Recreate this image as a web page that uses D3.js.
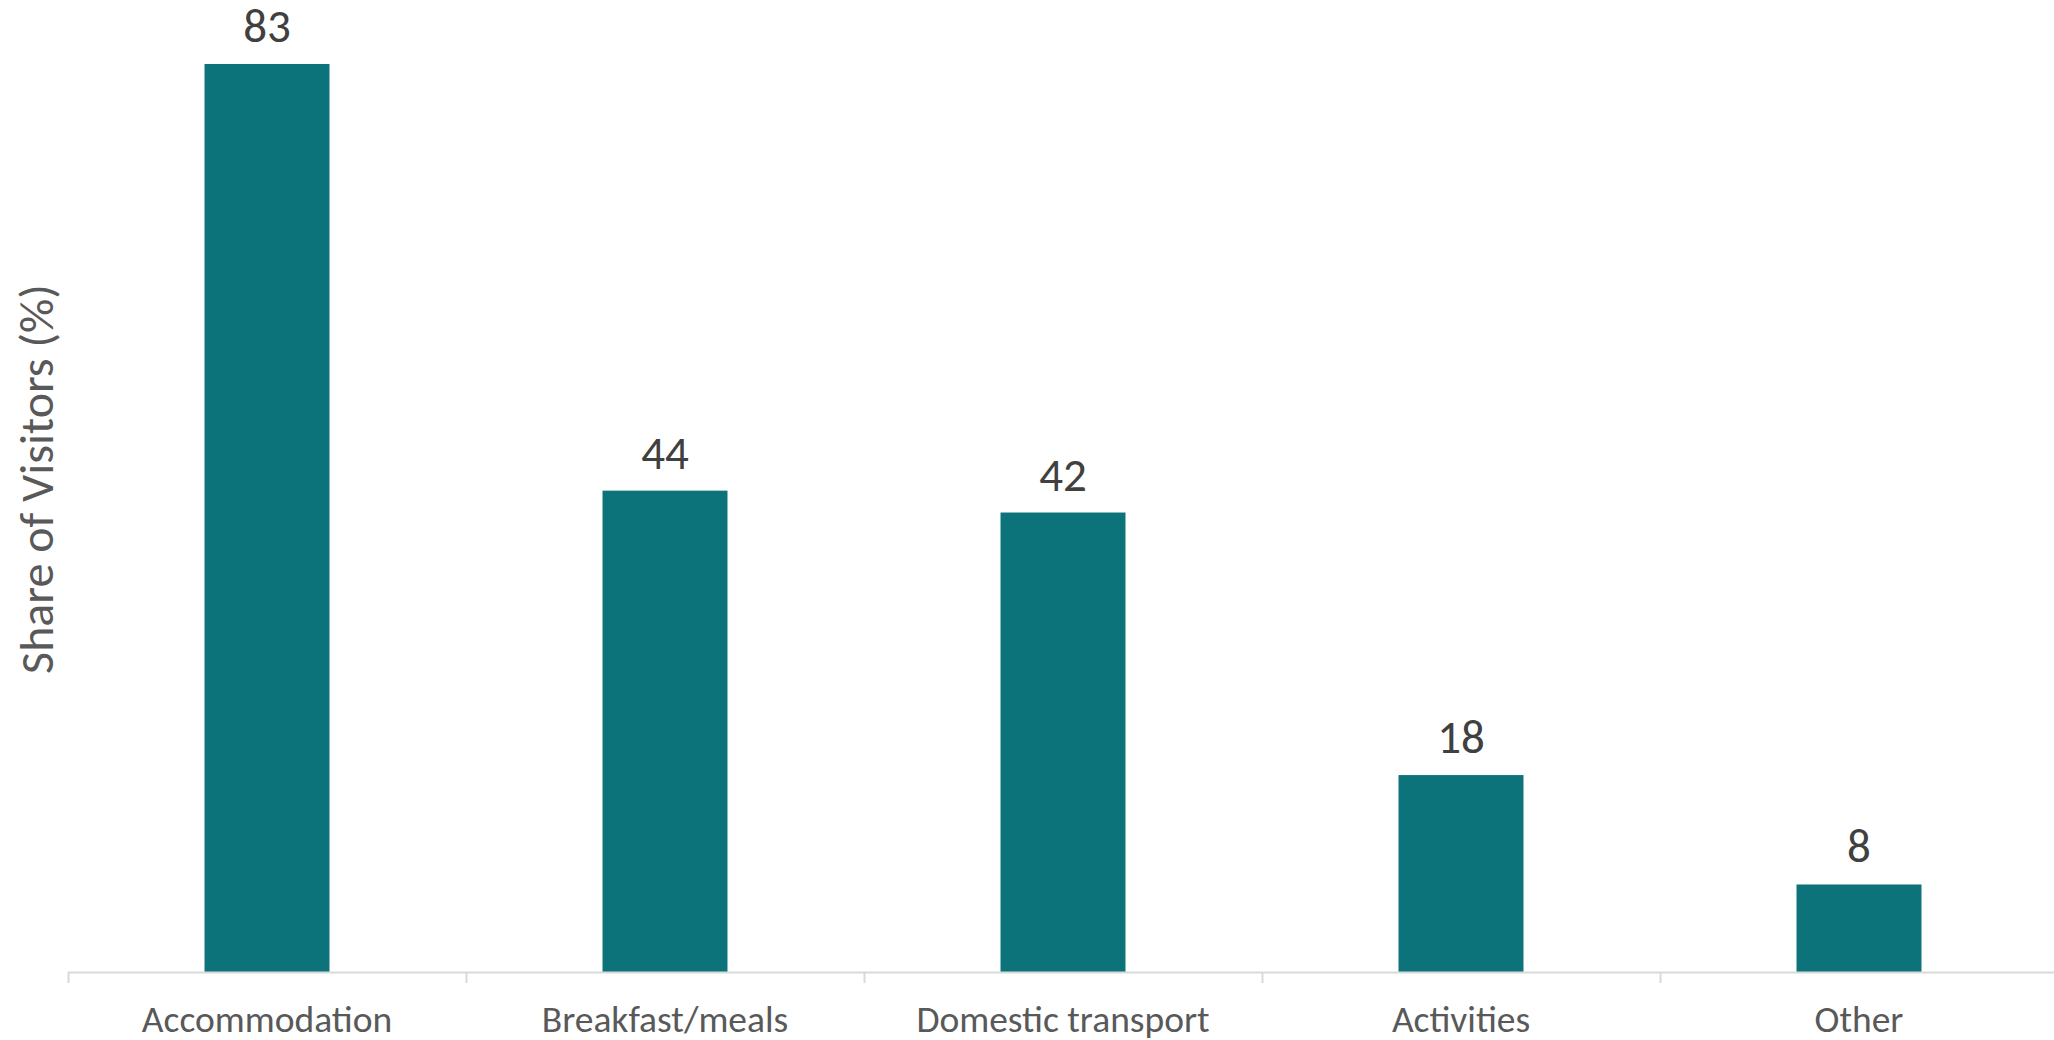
<!DOCTYPE html>
<html>
<head>
<meta charset="utf-8">
<script src="https://cdn.jsdelivr.net/npm/d3@7"></script>
<style>
  body { margin: 0; background: #fff; }
  svg { display: block; font-family: Carlito, Lato, "Open Sans", sans-serif; }
</style>
</head>
<body>
<div id="chart"></div>
<script>
// share of visitors paying for each item (%)
var categories = ['Accommodation', 'Breakfast/meals', 'Domestic transport', 'Activities', 'Other'];
var shares = [83, 44, 42, 18, 8];
var yTitle = 'Share of Visitors (%)';

var o = {
    width: 2054,
    height: 1040,
    left: 68,
    step: 398,
    base: 972
};

var svg = d3.select('#chart')
    .append('svg')
    .attr('width', o.width)
    .attr('height', o.height);

// the last band runs a little past the right edge, as in the original
var x = d3.scaleBand()
    .domain(categories)
    .range([o.left, o.left + o.step * categories.length])
    .padding(0);

var y = d3.scaleLinear()
    .domain([0, 90])
    .range([o.base, o.base - 90 * 10.94]);

var barW = x.bandwidth() * 0.314;

// bars
svg.selectAll('rect.bar')
    .data(categories)
    .enter().append('rect')
    .attr('class', 'bar')
    .attr('x', function (d) { return x(d) + (x.bandwidth() - barW) / 2; })
    .attr('width', barW)
    .attr('y', function (d, i) { return y(shares[i]); })
    .attr('height', function (d, i) { return y(0) - y(shares[i]); })
    .attr('fill', '#0c737b');

// value labels
svg.selectAll('text.val')
    .data(categories)
    .enter().append('text')
    .attr('class', 'val')
    .attr('x', function (d) { return x(d) + x.bandwidth() / 2; })
    .attr('y', function (d, i) { return y(shares[i]) - 22; })
    .attr('text-anchor', 'middle')
    .attr('font-size', 47)
    .attr('fill', '#404040')
    .text(function (d, i) { return shares[i]; });

// x axis with ticks between categories
var axis = svg.append('g')
    .attr('transform', 'translate(0,' + o.base + ')');

axis.append('line')
    .attr('x1', o.left).attr('x2', o.width)
    .attr('y1', 0.5).attr('y2', 0.5)
    .attr('stroke', '#d9d9d9')
    .attr('stroke-width', 2);

axis.selectAll('line.tick')
    .data(categories)
    .enter().append('line')
    .attr('class', 'tick')
    .attr('x1', function (d) { return x(d) + 0.5; })
    .attr('x2', function (d) { return x(d) + 0.5; })
    .attr('y1', 0).attr('y2', 11)
    .attr('stroke', '#d9d9d9')
    .attr('stroke-width', 2);

axis.selectAll('text.cat')
    .data(categories)
    .enter().append('text')
    .attr('class', 'cat')
    .attr('x', function (d) { return x(d) + x.bandwidth() / 2; })
    .attr('y', 60)
    .attr('text-anchor', 'middle')
    .attr('font-size', 37.5)
    .attr('fill', '#595959')
    .text(function (d) { return d; });

// y axis title
svg.append('text')
    .attr('transform', 'translate(36,479) rotate(-90)')
    .attr('text-anchor', 'middle')
    .attr('dominant-baseline', 'central')
    .attr('font-size', 48)
    .attr('fill', '#595959')
    .text(yTitle);
</script>
</body>
</html>
